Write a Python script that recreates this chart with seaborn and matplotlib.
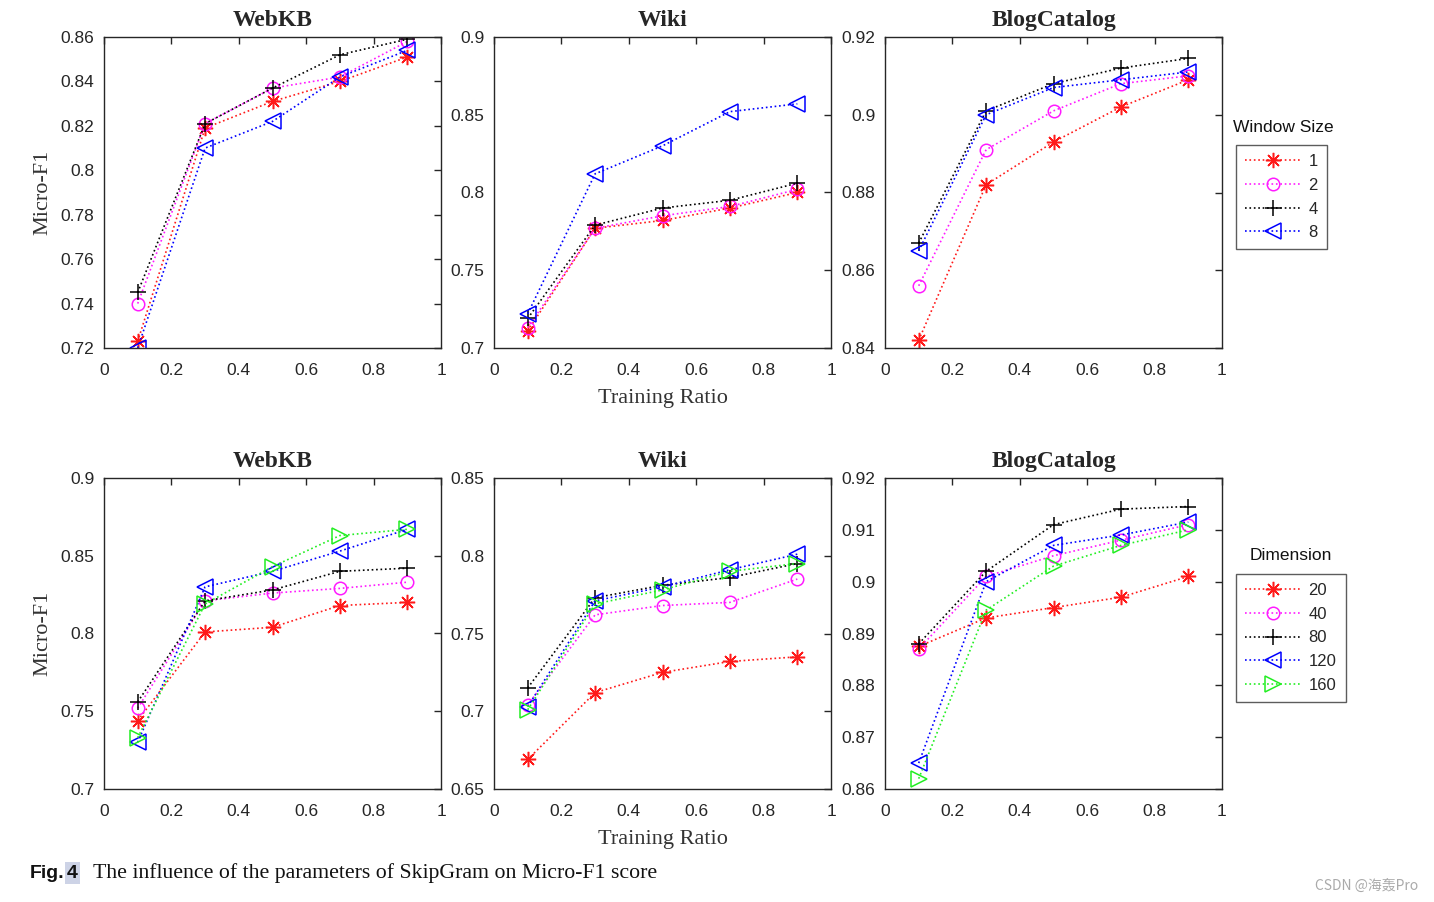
import numpy as np
import pandas as pd
import matplotlib
matplotlib.use("Agg")
import matplotlib.pyplot as plt
import seaborn as sns

# ---------------- data ----------------
ratios = [0.1, 0.3, 0.5, 0.7, 0.9]
datasets = ["WebKB", "Wiki", "BlogCatalog"]

window_labels = ["1", "2", "4", "8"]
dim_labels = ["20", "40", "80", "120", "160"]

# Window size (top row)
webkb_w1 = [0.723, 0.819, 0.831, 0.840, 0.851]
webkb_w2 = [0.740, 0.821, 0.837, 0.842, 0.858]
webkb_w4 = [0.745, 0.821, 0.837, 0.852, 0.859]
webkb_w8 = [0.720, 0.810, 0.822, 0.842, 0.854]

wiki_w1 = [0.711, 0.777, 0.782, 0.790, 0.800]
wiki_w2 = [0.713, 0.777, 0.785, 0.791, 0.802]
wiki_w4 = [0.719, 0.779, 0.790, 0.795, 0.806]
wiki_w8 = [0.722, 0.812, 0.830, 0.852, 0.857]

blog_w1 = [0.842, 0.882, 0.893, 0.902, 0.909]
blog_w2 = [0.856, 0.891, 0.901, 0.908, 0.910]
blog_w4 = [0.867, 0.901, 0.908, 0.912, 0.9145]
blog_w8 = [0.865, 0.900, 0.907, 0.909, 0.911]

# Dimension (bottom row)
webkb_d20 = [0.744, 0.801, 0.804, 0.818, 0.820]
webkb_d40 = [0.752, 0.821, 0.826, 0.829, 0.833]
webkb_d80 = [0.756, 0.821, 0.828, 0.840, 0.842]
webkb_d120 = [0.730, 0.830, 0.840, 0.853, 0.867]
webkb_d160 = [0.733, 0.819, 0.843, 0.863, 0.867]

wiki_d20 = [0.669, 0.712, 0.725, 0.732, 0.735]
wiki_d40 = [0.704, 0.762, 0.768, 0.770, 0.785]
wiki_d80 = [0.715, 0.773, 0.781, 0.786, 0.795]
wiki_d120 = [0.703, 0.771, 0.780, 0.791, 0.801]
wiki_d160 = [0.701, 0.769, 0.778, 0.790, 0.795]

blog_d20 = [0.8875, 0.893, 0.895, 0.897, 0.901]
blog_d40 = [0.887, 0.901, 0.905, 0.908, 0.911]
blog_d80 = [0.888, 0.902, 0.911, 0.914, 0.9145]
blog_d120 = [0.865, 0.900, 0.907, 0.909, 0.9115]
blog_d160 = [0.862, 0.8945, 0.903, 0.907, 0.910]

top_series = [
    [webkb_w1, webkb_w2, webkb_w4, webkb_w8],
    [wiki_w1, wiki_w2, wiki_w4, wiki_w8],
    [blog_w1, blog_w2, blog_w4, blog_w8],
]
bottom_series = [
    [webkb_d20, webkb_d40, webkb_d80, webkb_d120, webkb_d160],
    [wiki_d20, wiki_d40, wiki_d80, wiki_d120, wiki_d160],
    [blog_d20, blog_d40, blog_d80, blog_d120, blog_d160],
]

top_ylims = [(0.72, 0.86), (0.7, 0.9), (0.84, 0.92)]
top_yticks = [[0.72, 0.74, 0.76, 0.78, 0.80, 0.82, 0.84, 0.86],
              [0.70, 0.75, 0.80, 0.85, 0.90],
              [0.84, 0.86, 0.88, 0.90, 0.92]]
bottom_ylims = [(0.7, 0.9), (0.65, 0.85), (0.86, 0.92)]
bottom_yticks = [[0.70, 0.75, 0.80, 0.85, 0.90],
                 [0.65, 0.70, 0.75, 0.80, 0.85],
                 [0.86, 0.87, 0.88, 0.89, 0.90, 0.91, 0.92]]
xticks = [0, 0.2, 0.4, 0.6, 0.8, 1.0]

# ---------------- styles ----------------
colors = ["#ff1a1a", "#ff1aff", "#000000", "#0000ff", "#22ee22"]
markers = [(8, 2, 0), "o", "+", "<", ">"]
msizes = [11, 9, 12, 11, 11]

sns.set_theme(style="white")
plt.rcParams["font.family"] = ["Liberation Sans", "DejaVu Sans"]
plt.rcParams["axes.edgecolor"] = "#262626"
plt.rcParams["axes.linewidth"] = 1.0

W, H = 1434, 902
fig = plt.figure(figsize=(W / 100, H / 100), dpi=100)

lefts = [104, 494, 885]
aw = 337
ah = 311
tops = [37, 478]

serif = ["Liberation Serif", "DejaVu Serif"]


def fmt(v):
    return f"{v:g}"


def draw_panel(ax, series, labels, ylim, yticks, title, ylabel, xlabel):
    for i, ys in enumerate(series):
        df = pd.DataFrame({"ratio": ratios, "f1": ys})
        sns.lineplot(data=df, x="ratio", y="f1", ax=ax, color=colors[i],
                     linestyle=":", linewidth=1.2, marker=markers[i],
                     markersize=msizes[i], fillstyle="none",
                     markeredgewidth=1.1, markeredgecolor=colors[i],
                     label=labels[i], legend=False)
    ax.set_xlim(0, 1)
    ax.set_ylim(*ylim)
    ax.set_xticks(xticks)
    ax.set_xticklabels([fmt(v) for v in xticks])
    ax.set_yticks(yticks)
    ax.set_yticklabels([fmt(round(v, 3)) for v in yticks])
    ax.tick_params(direction="in", top=True, right=True, length=5,
                   width=1, color="#262626", labelsize=12.5,
                   labelcolor="#262626")
    ax.tick_params(axis="x", pad=11)
    ax.tick_params(axis="y", pad=7)
    ax.set_title(title, fontsize=17, fontweight="bold", family=serif, pad=8)
    ax.set_ylabel(ylabel, fontsize=16, family=serif, color="#333333",
                  labelpad=6)
    ax.set_xlabel(xlabel, fontsize=16, family=serif, color="#333333",
                  labelpad=8)
    for s in ax.spines.values():
        s.set_visible(True)
        s.set_color("#262626")


axes_rows = []
for r, (series_set, labels, ylims, ytks) in enumerate([
        (top_series, window_labels, top_ylims, top_yticks),
        (bottom_series, dim_labels, bottom_ylims, bottom_yticks)]):
    row = []
    for c in range(3):
        ax = fig.add_axes([lefts[c] / W, 1 - (tops[r] + ah) / H, aw / W, ah / H])
        draw_panel(ax, series_set[c], labels, ylims[c], ytks[c], datasets[c],
                   "Micro-F1" if c == 0 else "",
                   "Training Ratio" if c == 1 else "")
        row.append(ax)
    axes_rows.append(row)

# legends (title drawn above the box, as in the original)
for r, (title, box_top, tx, ty) in enumerate([
        ("Window Size", 145, 1283, 128), ("Dimension", 574, 1291, 556)]):
    ax = axes_rows[r][2]
    handles, labels = ax.get_legend_handles_labels()
    leg = fig.legend(handles, labels, loc="upper left",
                     bbox_to_anchor=(1236 / W, 1 - box_top / H),
                     bbox_transform=fig.transFigure, frameon=True,
                     fancybox=False, edgecolor="#333333", fontsize=12,
                     handlelength=3.3, handletextpad=0.5, labelspacing=0.52,
                     borderpad=0.55, borderaxespad=0, numpoints=1)
    leg.get_frame().set_linewidth(1.0)
    fig.text(tx / W, 1 - ty / H, title, ha="center", va="center",
             fontsize=12.5, color="#111111")

# caption
fig.text(30 / W, 1 - 873 / H, "Fig.", fontsize=14, fontweight="bold",
         ha="left", va="center", color="#111111",
         family=["Liberation Sans Narrow", "Liberation Sans"])
fig.text(67 / W, 1 - 873 / H, "4", fontsize=14, fontweight="bold",
         ha="left", va="center", color="#111111",
         family=["Liberation Sans Narrow", "Liberation Sans"],
         bbox=dict(facecolor="#cdd3e6", edgecolor="none", pad=1.5))
fig.text(93 / W, 1 - 873 / H,
         "The influence of the parameters of SkipGram on Micro-F1 score",
         fontsize=15.7, ha="left", va="center", color="#111111", family=serif)

# watermark
fig.text(1418 / W, 1 - 886 / H, "CSDN @海轰Pro", fontsize=10, ha="right",
         va="center", color="#aaaaaa",
         family=["Noto Sans CJK SC", "DejaVu Sans"])

fig.savefig("out.png", dpi=100, facecolor="white")
